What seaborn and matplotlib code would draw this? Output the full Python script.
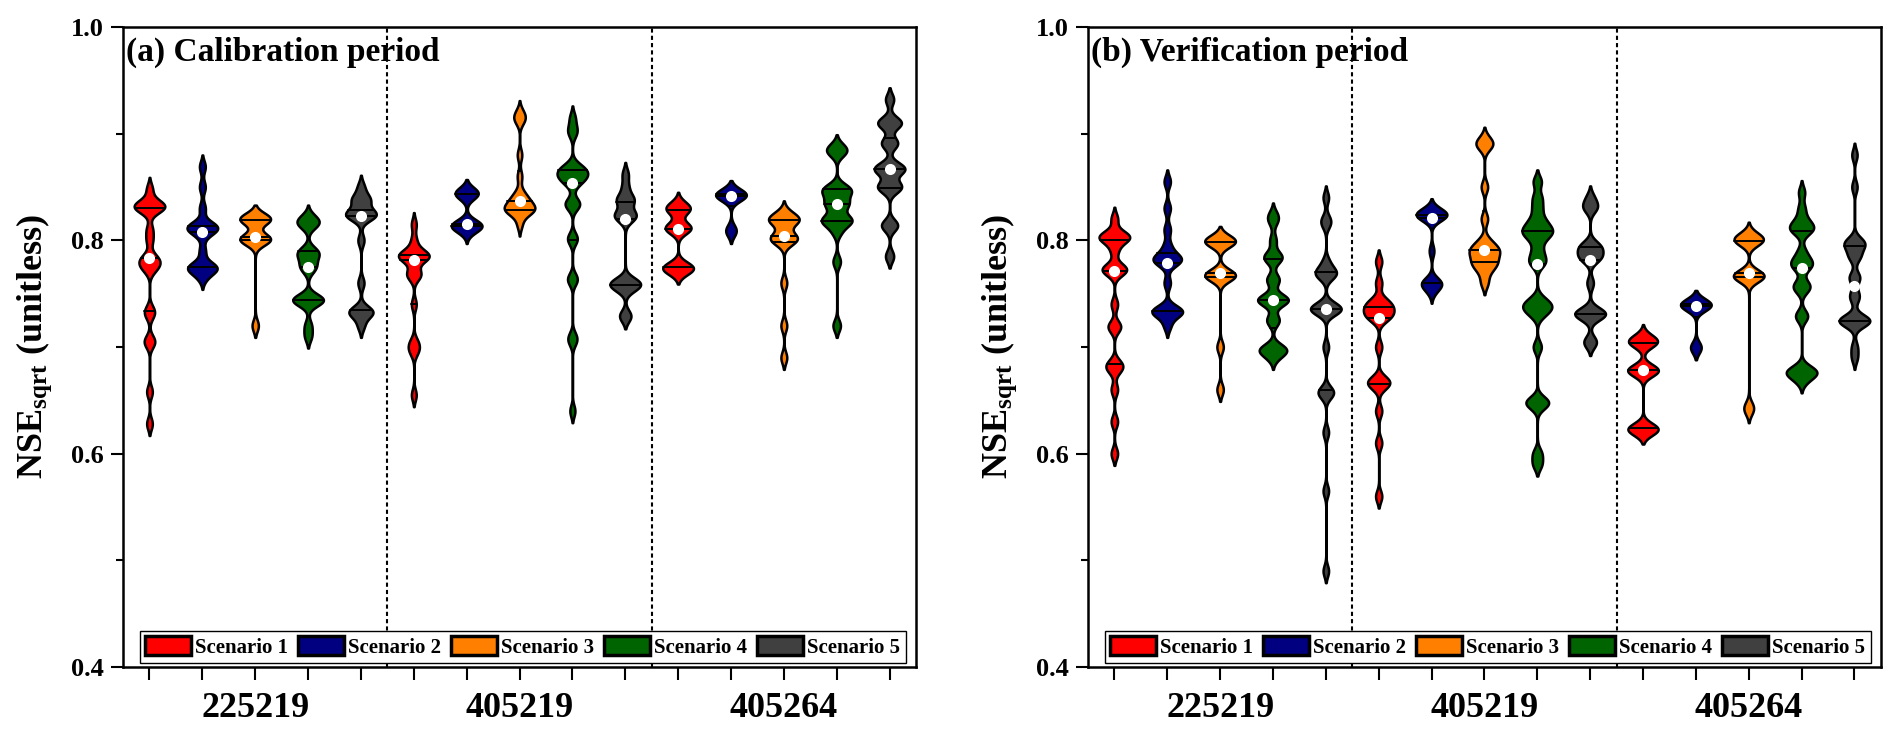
import numpy as np
import pandas as pd
import seaborn as sns
import matplotlib.pyplot as plt
from matplotlib.patches import Patch

# estações e cenários
stations = ["225219", "405219", "405264"]
scenarios = ["Scenario 1", "Scenario 2", "Scenario 3", "Scenario 4", "Scenario 5"]
cores = ["#FF0000", "#000080", "#FF8000", "#006400", "#404040"]

# NSEsqrt por estação, um sub-lista por cenário (período de calibração)
cal_225219 = [
    [0.848, 0.836, 0.834, 0.832, 0.831, 0.830, 0.828, 0.810, 0.800, 0.785,
     0.782, 0.779, 0.776, 0.772, 0.735, 0.730, 0.707, 0.703, 0.658, 0.628],
    [0.869, 0.850, 0.830, 0.815, 0.813, 0.812, 0.811, 0.810, 0.805, 0.790,
     0.777, 0.775, 0.774, 0.773, 0.772, 0.765],
    [0.822, 0.821, 0.820, 0.819, 0.818, 0.803, 0.802, 0.801, 0.800, 0.799, 0.720],
    [0.822, 0.818, 0.816, 0.814, 0.790, 0.789, 0.787, 0.781, 0.775, 0.773,
     0.746, 0.745, 0.744, 0.743, 0.742, 0.720, 0.710],
    [0.850, 0.840, 0.838, 0.836, 0.826, 0.825, 0.824, 0.823, 0.822, 0.800,
     0.760, 0.735, 0.733, 0.732, 0.731, 0.720],
]
cal_405219 = [
    [0.815, 0.800, 0.790, 0.788, 0.786, 0.785, 0.784, 0.783, 0.782, 0.770,
     0.768, 0.766, 0.740, 0.705, 0.700, 0.695, 0.655],
    [0.846, 0.845, 0.844, 0.843, 0.842, 0.816, 0.815, 0.814, 0.814, 0.813, 0.812, 0.808],
    [0.920, 0.915, 0.912, 0.880, 0.860, 0.845, 0.840, 0.838, 0.835, 0.832,
     0.830, 0.829, 0.828, 0.827, 0.826, 0.815],
    [0.915, 0.905, 0.900, 0.870, 0.868, 0.866, 0.864, 0.862, 0.860, 0.858,
     0.856, 0.852, 0.836, 0.834, 0.832, 0.803, 0.800, 0.765, 0.762, 0.710,
     0.705, 0.640],
    [0.862, 0.850, 0.840, 0.838, 0.836, 0.826, 0.824, 0.822, 0.820, 0.762,
     0.761, 0.760, 0.758, 0.756, 0.754, 0.730, 0.728],
]
cal_405264 = [
    [0.834, 0.830, 0.829, 0.828, 0.813, 0.812, 0.811, 0.810, 0.776, 0.775,
     0.774, 0.773, 0.770],
    [0.845, 0.844, 0.843, 0.842, 0.841, 0.840, 0.810, 0.808],
    [0.826, 0.822, 0.820, 0.819, 0.818, 0.816, 0.805, 0.803, 0.802, 0.800,
     0.798, 0.760, 0.720, 0.690],
    [0.888, 0.884, 0.882, 0.850, 0.848, 0.846, 0.844, 0.836, 0.834, 0.832,
     0.821, 0.819, 0.818, 0.817, 0.808, 0.780, 0.720],
    [0.932, 0.912, 0.910, 0.908, 0.892, 0.890, 0.870, 0.868, 0.866, 0.864,
     0.852, 0.850, 0.848, 0.815, 0.813, 0.785],
]

# período de verificação
ver_225219 = [
    [0.820, 0.806, 0.804, 0.803, 0.802, 0.800, 0.790, 0.775, 0.773, 0.772,
     0.770, 0.740, 0.720, 0.718, 0.685, 0.682, 0.678, 0.660, 0.630, 0.600],
    [0.855, 0.830, 0.810, 0.795, 0.786, 0.784, 0.782, 0.780, 0.778, 0.760,
     0.736, 0.734, 0.733, 0.732, 0.731, 0.720],
    [0.802, 0.800, 0.799, 0.798, 0.797, 0.770, 0.768, 0.767, 0.766, 0.765, 0.700, 0.660],
    [0.824, 0.818, 0.800, 0.786, 0.784, 0.782, 0.764, 0.762, 0.746, 0.745,
     0.744, 0.743, 0.742, 0.726, 0.724, 0.699, 0.698, 0.697, 0.696, 0.690],
    [0.840, 0.820, 0.815, 0.780, 0.772, 0.770, 0.768, 0.766, 0.740, 0.737,
     0.736, 0.735, 0.734, 0.733, 0.700, 0.660, 0.657, 0.655, 0.620, 0.565, 0.490],
]
ver_405219 = [
    [0.780, 0.760, 0.744, 0.742, 0.738, 0.736, 0.734, 0.730, 0.728, 0.726,
     0.700, 0.670, 0.668, 0.665, 0.663, 0.640, 0.610, 0.560],
    [0.828, 0.826, 0.825, 0.824, 0.823, 0.822, 0.821, 0.790, 0.762, 0.760,
     0.759, 0.758, 0.752],
    [0.895, 0.890, 0.888, 0.850, 0.820, 0.800, 0.795, 0.792, 0.790, 0.788,
     0.785, 0.780, 0.778, 0.776, 0.770, 0.760],
    [0.855, 0.840, 0.830, 0.820, 0.815, 0.810, 0.808, 0.806, 0.800, 0.790,
     0.782, 0.778, 0.745, 0.740, 0.738, 0.735, 0.730, 0.700, 0.650, 0.648,
     0.645, 0.600, 0.590],
    [0.840, 0.832, 0.830, 0.796, 0.794, 0.792, 0.786, 0.784, 0.782, 0.760,
     0.734, 0.732, 0.731, 0.730, 0.728, 0.706, 0.703],
]
ver_405264 = [
    [0.710, 0.706, 0.705, 0.704, 0.703, 0.680, 0.679, 0.678, 0.677, 0.676,
     0.625, 0.624, 0.623, 0.622, 0.620],
    [0.742, 0.741, 0.740, 0.739, 0.738, 0.737, 0.700, 0.699],
    [0.806, 0.803, 0.801, 0.800, 0.799, 0.798, 0.770, 0.768, 0.767, 0.766,
     0.765, 0.764, 0.645, 0.640],
    [0.845, 0.830, 0.820, 0.815, 0.812, 0.810, 0.808, 0.790, 0.782, 0.780,
     0.776, 0.774, 0.760, 0.756, 0.754, 0.730, 0.728, 0.680, 0.678, 0.676,
     0.675, 0.674, 0.668],
    [0.880, 0.850, 0.800, 0.798, 0.796, 0.794, 0.786, 0.784, 0.766, 0.764,
     0.750, 0.745, 0.727, 0.726, 0.725, 0.724, 0.723, 0.722, 0.700, 0.690],
]

paineis = [
    ("(a) Calibration period", [cal_225219, cal_405219, cal_405264]),
    ("(b) Verification period", [ver_225219, ver_405219, ver_405264]),
]

BW = 0.0055  # largura de banda absoluta do kernel


def bw_fixo(kde):
    return BW / kde.dataset.std(ddof=1)


def monta_df(grupos):
    linhas = []
    for est, por_cenario in zip(stations, grupos):
        for cen, vals in zip(scenarios, por_cenario):
            for v in vals:
                linhas.append({"slot": f"{est}|{cen}", "scenario": cen, "value": v})
    return pd.DataFrame(linhas)


slot_order = [f"{e}|{c}" for e in stations for c in scenarios]
palette = dict(zip(scenarios, cores))

sns.set_style("white")
plt.rcParams["font.family"] = ["Liberation Serif", "DejaVu Serif"]
plt.rcParams["font.weight"] = "bold"
plt.rcParams["text.color"] = "black"
plt.rcParams["axes.labelcolor"] = "black"
plt.rcParams["xtick.color"] = "black"
plt.rcParams["ytick.color"] = "black"
plt.rcParams["mathtext.fontset"] = "custom"
plt.rcParams["mathtext.rm"] = "Liberation Serif:bold"
plt.rcParams["mathtext.it"] = "Liberation Serif:bold"
plt.rcParams["mathtext.bf"] = "Liberation Serif:bold"

fig = plt.figure(figsize=(19.02, 7.41), dpi=100)
posicoes = [[0.0647, 0.0999, 0.4169, 0.8637], [0.572, 0.0999, 0.4169, 0.8637]]

for pos, (titulo, grupos) in zip(posicoes, paineis):
    ax = fig.add_axes(pos)
    df = monta_df(grupos)

    sns.violinplot(data=df, x="slot", y="value", hue="scenario", order=slot_order,
                   hue_order=scenarios, palette=palette, dodge=False, saturation=1,
                   density_norm="width", width=0.58, inner="quart", linewidth=1.8,
                   linecolor="black", bw_method=bw_fixo, cut=2, gridsize=400,
                   legend=False, ax=ax)
    # linhas dos quartis contínuas
    for ln in ax.lines:
        ln.set_linestyle("-")
        ln.set_linewidth(1.4)

    # mediana como ponto branco
    sns.pointplot(data=df, x="slot", y="value", order=slot_order, estimator="median",
                  errorbar=None, color="white", linestyle="none", marker="o",
                  markersize=8, markeredgewidth=0, zorder=10, ax=ax)

    for xd in [4.5, 9.5]:
        ax.axvline(xd, color="black", linewidth=1.5, linestyle=(0, (2, 1.5)), zorder=1)

    ax.set_xlim(-0.5, 14.5)
    ax.set_ylim(0.4, 1.0)
    ax.xaxis.remove_overlapping_locs = False
    ax.set_xticks(range(15))
    ax.set_xticklabels([""] * 15)
    ax.set_xticks([2, 7, 12], minor=True)
    ax.set_xticklabels(stations, minor=True, fontsize=26, fontweight="bold")
    ax.set_yticks([0.4, 0.6, 0.8, 1.0])
    ax.set_yticklabels(["0.4", "0.6", "0.8", "1.0"], fontsize=19, fontweight="bold")
    ax.set_yticks([0.5, 0.7, 0.9], minor=True)
    ax.tick_params(axis="x", which="major", direction="out", length=9, width=1.5,
                   bottom=True, color="black")
    ax.tick_params(axis="x", which="minor", length=0, pad=18, bottom=True,
                   labelcolor="black")
    ax.tick_params(axis="y", which="major", direction="out", length=9, width=1.5,
                   left=True, pad=5, color="black", labelcolor="black")
    ax.tick_params(axis="y", which="minor", direction="out", length=5, width=1.5,
                   left=True, color="black")
    ax.set_xlabel("")
    ax.set_ylabel(r"NSE$_{\rm sqrt}$ (unitless)", fontsize=26, fontweight="bold",
                  labelpad=12, color="black")
    for sp in ax.spines.values():
        sp.set_visible(True)
        sp.set_color("black")
        sp.set_linewidth(1.8)

    ax.text(0.004, 0.985, titulo, transform=ax.transAxes, ha="left", va="top",
            fontsize=24, fontweight="bold", color="black")

    handles = [Patch(facecolor=c, edgecolor="black", linewidth=2.5) for c in cores]
    leg = ax.legend(handles, scenarios, loc="lower left",
                    bbox_to_anchor=(0.021, 0.006, 0.966, 0.047), mode="expand",
                    ncol=5, fancybox=False, framealpha=1, edgecolor="black",
                    borderaxespad=0, borderpad=0.25, handlelength=2.2,
                    handleheight=1.0, handletextpad=0.2, columnspacing=0.3,
                    prop={"size": 15, "weight": "bold"})
    leg.get_frame().set_linewidth(1.0)
    for t in leg.get_texts():
        t.set_color("black")

fig.savefig("out.png", dpi=100)
